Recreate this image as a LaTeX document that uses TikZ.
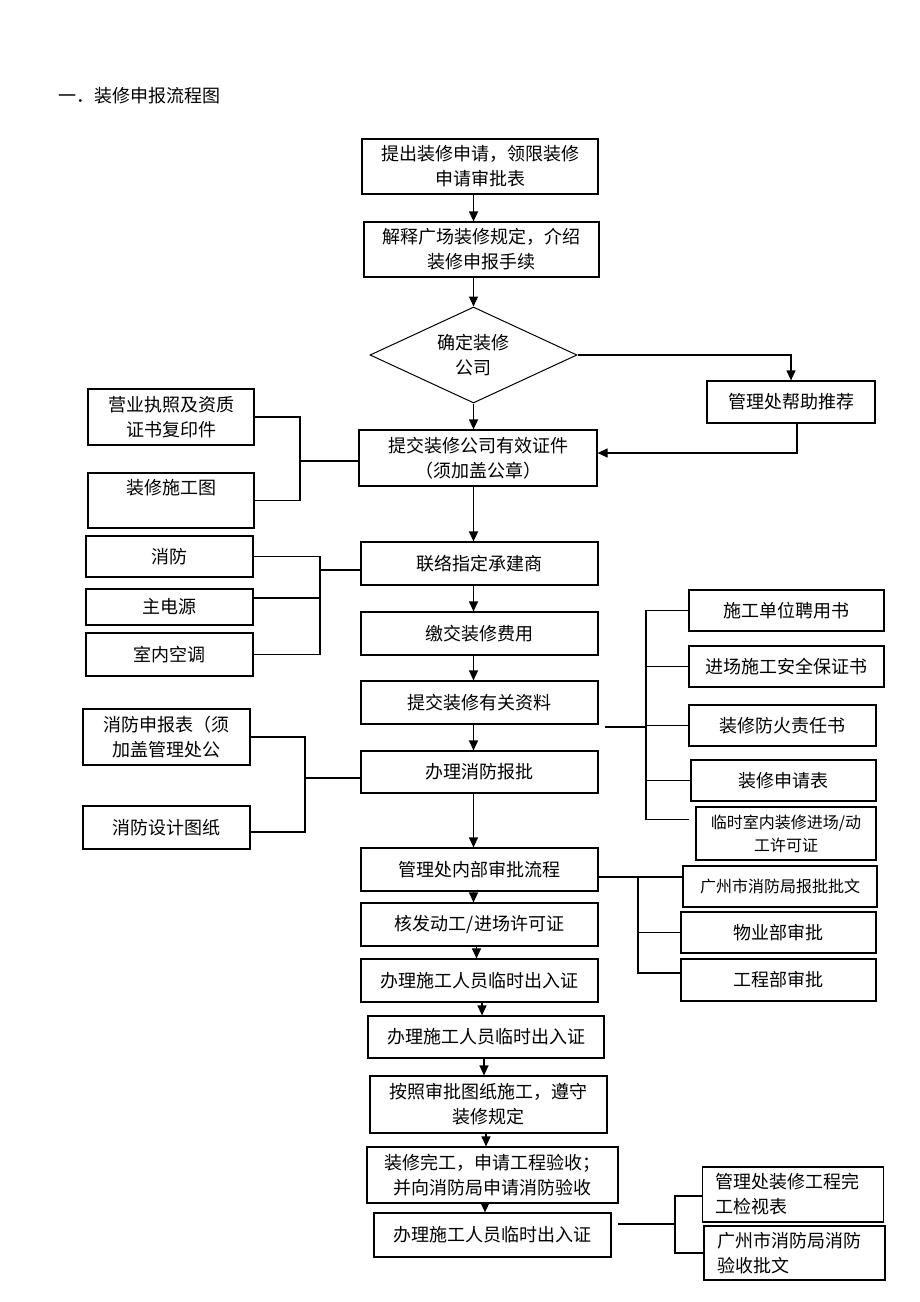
\documentclass[tikz,border=0pt]{standalone}
\usepackage{fontspec}
\setmainfont{Noto Sans CJK SC}
\usepackage[dvipsnames]{xcolor}
\usetikzlibrary{arrows.meta,shapes.geometric}

\tikzset{
  box/.style={draw, line width=1.2pt, align=center, inner sep=2pt,
    font=\fontsize{18pt}{25pt}\selectfont},
  smallbox/.style={box, font=\fontsize{16pt}{23pt}\selectfont},
  leftbox/.style={box, align=left, text width=155pt, inner xsep=13pt},
  flow/.style={line width=1.2pt, -{Triangle[length=10pt,width=9pt]}},
  link/.style={line width=1.2pt},
}

\begin{document}
\begin{tikzpicture}[x=1pt,y=-1pt]
    \useasboundingbox (0,0) rectangle (920,1302);
    \node[anchor=west, font=\fontsize{18pt}{25pt}\selectfont] (title) at (55,96) {一．装修申报流程图};

    \node[box, minimum width=236pt, minimum height=55pt] (apply) at (480,166.5) {提出装修申请，领限装修\\申请审批表};
    \node[box, minimum width=235pt, minimum height=55pt] (explain) at (481.5,249.5) {解释广场装修规定，介绍\\装修申报手续};
    \node[draw, diamond, aspect=2.15, inner sep=0pt, line width=1pt, minimum width=207pt, minimum height=96pt,
      align=center, font=\fontsize{18pt}{25pt}\selectfont] (choose) at (473.5,355) {确定装修\\公司};
    \node[box, minimum width=168pt, minimum height=42pt] (recommend) at (791,402) {管理处帮助推荐};
    \node[box, minimum width=238pt, minimum height=56pt] (submitcert) at (478,458) {提交装修公司有效证件\\（须加盖公章）};
    \node[box, minimum width=166pt, minimum height=56pt] (license) at (171,417) {营业执照及资质\\证书复印件};
    \node[box, minimum width=166pt, minimum height=55pt] (drawing) at (171,500.5) {装修施工图\\[-6pt]\strut};

    \node[box, minimum width=237pt, minimum height=43pt] (contact) at (479.5,563.5) {联络指定承建商};
    \node[box, minimum width=167pt, minimum height=41pt] (fire) at (169.5,556.5) {消防};
    \node[box, minimum width=167pt, minimum height=36pt] (power) at (169.5,607) {主电源};
    \node[box, minimum width=167pt, minimum height=43pt] (aircon) at (169.5,654.5) {室内空调};
    \node[box, minimum width=237pt, minimum height=43pt] (pay) at (479.5,633.5) {缴交装修费用};
    \node[box, minimum width=237pt, minimum height=43pt] (docs) at (479.5,702.5) {提交装修有关资料};
    \node[box, minimum width=237pt, minimum height=42pt] (firereport) at (479.5,772) {办理消防报批};
    \node[box, minimum width=167pt, minimum height=56pt] (firetable) at (166.5,737) {消防申报表（须\\加盖管理处公};
    \node[box, minimum width=167pt, minimum height=43pt] (firedesign) at (166.5,827.5) {消防设计图纸};

    \node[box, minimum width=195pt, minimum height=41pt] (hire) at (786.5,610.5) {施工单位聘用书};
    \node[box, minimum width=195pt, minimum height=41pt] (safety) at (786.5,666.5) {进场施工安全保证书};
    \node[box, minimum width=187pt, minimum height=41pt] (fireduty) at (782.5,725.5) {装修防火责任书};
    \node[box, minimum width=185pt, minimum height=41pt] (appform) at (783.5,780.5) {装修申请表};
    \node[smallbox, minimum width=180pt, minimum height=53pt] (temppermit) at (786,833.5) {临时室内装修进场/动\\工许可证};

    \node[box, minimum width=237pt, minimum height=43pt] (internal) at (479.5,869.5) {管理处内部审批流程};
    \node[smallbox, minimum width=194pt, minimum height=41pt] (cityfire) at (780,886.5) {广州市消防局报批批文};
    \node[box, minimum width=195pt, minimum height=41pt] (property) at (778.5,932.5) {物业部审批};
    \node[box, minimum width=195pt, minimum height=42pt] (engineering) at (778.5,980) {工程部审批};

    \node[box, minimum width=237pt, minimum height=43pt] (permit) at (479.5,924.5) {核发动工/进场许可证};
    \node[box, minimum width=237pt, minimum height=43pt] (pass1) at (479.5,980.5) {办理施工人员临时出入证};
    \node[box, minimum width=236pt, minimum height=42pt] (pass2) at (486,1037) {办理施工人员临时出入证};
    \node[box, minimum width=237pt, minimum height=57pt] (build) at (488.5,1104.5) {按照审批图纸施工，遵守\\装修规定};
    \node[box, minimum width=251pt, minimum height=56pt] (finish) at (492.5,1175) {装修完工，申请工程验收；\\并向消防局申请消防验收};
    \node[box, minimum width=237pt, minimum height=44pt] (pass3) at (492.5,1235) {办理施工人员临时出入证};
    \node[leftbox, minimum height=55pt] (checklist) at (793,1194.5) {管理处装修工程完\\工检视表};
    \node[leftbox, minimum height=54pt] (acceptance) at (794.5,1253) {广州市消防局消防\\验收批文};

    % main flow
    \draw[flow] (apply.south -| choose) -- (explain.north -| choose);
    \draw[flow] (explain.south -| choose) -- (choose.north);
    \draw[flow] (choose.south) -- (submitcert.north -| choose);
    \draw[flow] (choose.east) -| (recommend.north);
    \draw[flow] ([xshift=6pt]recommend.south) |- ([yshift=5pt]submitcert.east);
    \draw[flow] (submitcert.south -| choose) -- (contact.north -| choose);
    \draw[flow] (contact.south -| choose) -- (pay.north -| choose);
    \draw[flow] (pay.south -| choose) -- (docs.north -| choose);
    \draw[flow] (docs.south -| choose) -- (firereport.north -| choose);
    \draw[flow] (firereport.south -| choose) -- (internal.north -| choose);
    \draw[flow] (internal.south -| choose) -- (permit.north -| choose);
    \draw[flow] ([xshift=-3pt]permit.south) -- ([xshift=-3pt]permit.south |- pass1.north);
    \draw[flow] ([xshift=2.5pt]pass1.south) -- ([xshift=2.5pt]pass1.south |- pass2.north);
    \draw[flow] ([xshift=-2pt]pass2.south) -- ([xshift=-2pt]pass2.south |- build.north);
    \draw[flow] ([xshift=-2.5pt]build.south) -- ([xshift=-2.5pt]build.south |- finish.north);
    \draw[flow] ([xshift=-7.5pt]finish.south) -- ([xshift=-7.5pt]finish.south |- pass3.north);

    % side brackets
    \coordinate (jA) at (300,461);
    \draw[link] (license.east) -| (jA);
    \draw[link] (drawing.east) -| (jA);
    \draw[link] (jA) -- (jA -| submitcert.west);

    \coordinate (jB) at (320,570);
    \draw[link] (fire.east) -| (jB);
    \draw[link] ([yshift=9pt]power.east) -| (jB);
    \draw[link] (aircon.east) -| (jB);
    \draw[link] (jB) -- (jB -| contact.west);

    \coordinate (jC) at (646,727);
    \coordinate (docsout) at (605,727);
    \draw[link] (docsout) -- (jC);
    \draw[link] (hire.west) -| (jC);
    \draw[link] (safety.west) -| (jC);
    \draw[link] (fireduty.west) -| (jC);
    \draw[link] (appform.west) -| (jC);
    \draw[link] ([xshift=-6pt,yshift=14pt]temppermit.west) -| (jC);

    \coordinate (jD) at (305,778);
    \draw[link] (firetable.east) -| (jD);
    \draw[link] ([yshift=-4.5pt]firedesign.east) -| (jD);
    \draw[link] (jD) -- (jD -| firereport.west);

    \coordinate (jE) at (638,877);
    \draw[link] (jE -| internal.east) -- (jE -| cityfire.west);
    \draw[link] (property.west) -| (jE);
    \draw[link] ([yshift=7pt]engineering.west) -| (jE);

    \coordinate (jF) at (675,1224);
    \coordinate (pass3out) at (618,1224);
    \draw[link] (pass3out) -- (jF);
    \draw[link] ([yshift=-1.5pt]checklist.west) -| (jF);
    \draw[link] (acceptance.west) -| (jF);
\end{tikzpicture}
\end{document}
